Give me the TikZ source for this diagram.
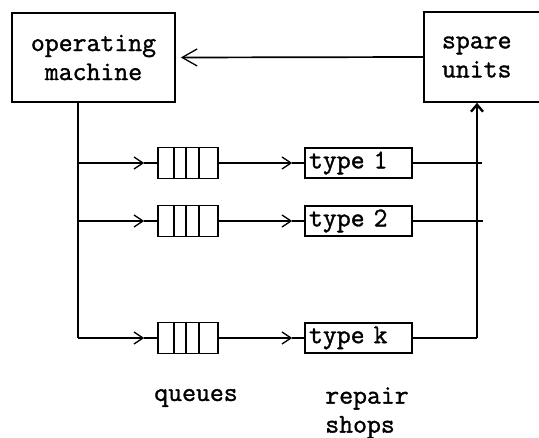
\documentclass[tikz,border=0pt]{standalone}
\usepackage{fontspec}
\setmonofont{Latin Modern Mono}[AutoFakeBold=1.3]
\usetikzlibrary{arrows.meta}
\begin{document}
\begin{tikzpicture}[x=1pt,y=-1pt, line width=1.7pt,
  tt/.style={font=\fontsize{27}{29}\selectfont\ttfamily\bfseries},
  box/.style={draw, tt, inner ysep=0pt, align=center},
  queue/.style={draw, minimum width=60pt, minimum height=31pt, inner sep=0pt},
  shop/.style={draw, tt, minimum height=30pt, text width=99pt, inner xsep=4pt, inner ysep=0pt, align=left},
  barb/.style={-{Straight Barb[length=9pt,width=12pt,line width=1.3pt]}},
  bigbarb/.style={-{Straight Barb[length=15pt,width=17pt,line width=1.3pt]}},
  upbarb/.style={-{Straight Barb[length=7pt,width=12pt,line width=2.4pt]}},
  lbl/.style={tt, align=left, inner sep=0pt}]
\useasboundingbox (0,0) rectangle (539,438);
\node[box, minimum width=163pt, minimum height=89pt, inner xsep=0pt] (opm) at (93.5,57.5) {operating\\machine};
\node[box, minimum height=90pt, text width=102pt, inner xsep=18pt, align=left] (spare) at (493,57) {spare\\units};
\draw[bigbarb] (spare.west) -- ([xshift=5pt]opm.east);
\coordinate (ls) at (78,102);
\foreach \y/\t/\n in {163/1/1, 221/2/2, 338/k/k} {
  \node[queue] (q\n) at (188,\y) {};
  \foreach \d in {17,29,42} \draw ([xshift=\d pt]q\n.north west) -- ([xshift=\d pt]q\n.south west);
  \node[shop] (s\n) at (358.5,\y) {type \t};
  \coordinate (a\n) at (78,\y);
  \coordinate (r\n) at (477,\y);
  \draw[barb] (a\n) -- ([xshift=-13pt]q\n.west);
  \draw ([xshift=-13pt]q\n.west) -- (q\n.west);
  \draw[barb] (q\n.east) -- ([xshift=-12pt]s\n.west);
  \draw ([xshift=-12pt]s\n.west) -- (s\n.west);
}
\draw (s1.east) -- (r1) -- ([xshift=5pt]r1);
\draw (s2.east) -- (r2) -- ([xshift=6pt]r2);
\draw (sk.east) -- (rk);
\draw (ls) -- (ak);
\draw[upbarb] (rk) -- (spare.south -| rk);
\node[lbl] (ql) at (196,398) {queues};
\node[lbl] (rl) at (367,413) {repair\\shops};
\end{tikzpicture}
\end{document}
